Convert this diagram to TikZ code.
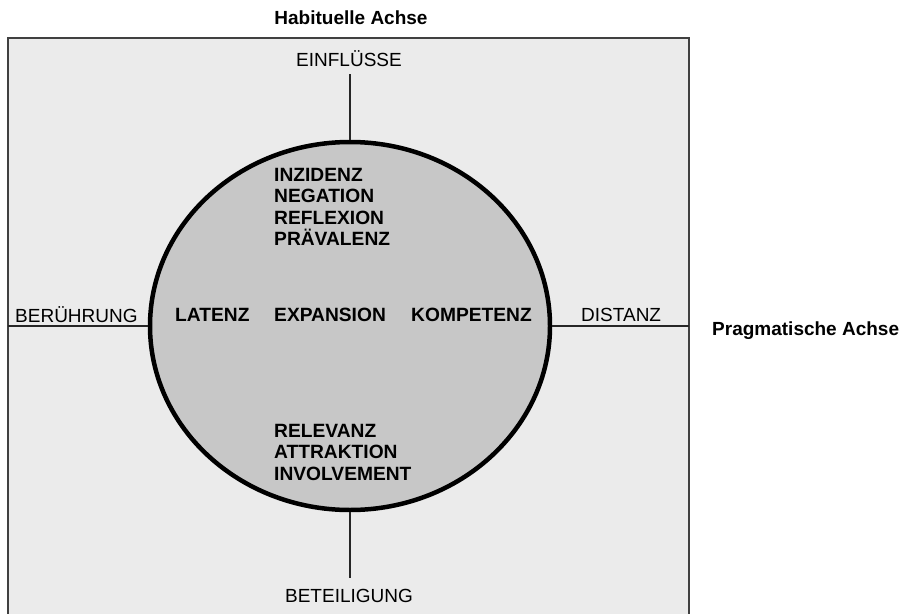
\documentclass[tikz,border=0pt]{standalone}
\usepackage{fontspec}
\setmainfont{Liberation Sans}
\usetikzlibrary{shapes.geometric}

\tikzset{
    achse/.style={font=\fontsize{19}{21}\selectfont\bfseries, inner sep=0pt, anchor=base west},
    pol/.style={font=\fontsize{19}{21}\selectfont, inner sep=0pt},
    begriff/.style={font=\fontsize{19.2}{21.3}\selectfont\bfseries, inner sep=0pt, align=left},
    strich/.style={line width=1.6pt, black!85}
}

\begin{document}
\begin{tikzpicture}[x=1pt, y=-1pt]
        \useasboundingbox (0, 0) rectangle (912, 613);

        % Rahmen und Kreis
        \draw [fill={black!8}, draw={black!75}, line width=1.6pt] (8, 38) rectangle (689, 616);
        \node [draw, fill={black!22}, line width=4.5pt, ellipse, minimum width=400, minimum height=368, inner sep=0pt] (kreis) at (350, 326) {};

        % Achsen
        \coordinate (oben) at (350, 74);
        \coordinate (unten) at (350, 578);
        \coordinate (links) at (8, 326);
        \coordinate (rechts) at (689, 326);
        \draw [strich] (oben) -- (kreis.north);
        \draw [strich] (kreis.south) -- (unten);
        \draw [strich] (links) -- (kreis.west);
        \draw [strich] (kreis.east) -- (rechts);

        % Beschriftung aussen
        \node [achse, anchor=base] (habituell) at (351, 24) {Habituelle Achse};
        \node [achse] (pragmatisch) at (712, 335) {Pragmatische Achse};
        \node [pol, anchor=base] (einfluesse) at (349, 66) {EINFLÜSSE};
        \node [pol, anchor=base] (beteiligung) at (349, 602) {BETEILIGUNG};
        \node [pol, anchor=base west] (beruehrung) at (15, 322) {BERÜHRUNG};
        \node [pol, anchor=base west] (distanz) at (581, 321) {DISTANZ};

        % Begriffe im Kreis
        \node [begriff, anchor=north west] (oberegruppe) at (274, 168) {INZIDENZ\\NEGATION\\REFLEXION\\PRÄVALENZ};
        \node [begriff, anchor=base west] (latenz) at (175, 321) {LATENZ};
        \node [begriff, anchor=base west] (expansion) at (274, 321) {EXPANSION};
        \node [begriff, anchor=base west] (kompetenz) at (411, 321) {KOMPETENZ};
        \node [begriff, anchor=north west] (unteregruppe) at (274, 424) {RELEVANZ\\ATTRAKTION\\INVOLVEMENT};
\end{tikzpicture}
\end{document}
